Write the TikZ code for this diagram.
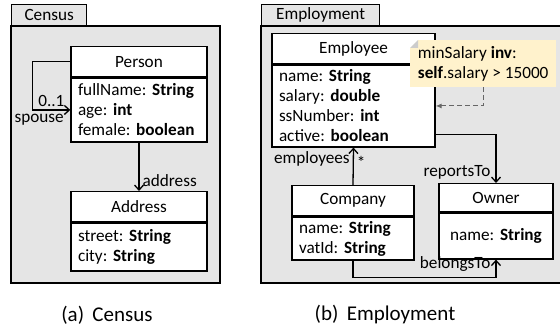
\documentclass[tikz,border=0pt]{standalone}
\usepackage{fontspec}
\setmainfont{Carlito}
\usetikzlibrary{arrows.meta}

\newcommand{\umlfont}{\fontsize{17.2}{20}\selectfont}
\newcommand{\capfont}{\fontsize{21}{24}\selectfont}
\definecolor{notefill}{RGB}{255,242,204}
\frenchspacing

\tikzset{
  pkg/.style={draw, fill=black!10, line width=1.3pt},
  pkgtab/.style={pkg, anchor=south west, inner sep=0pt, minimum height=21, font=\umlfont},
  classhead/.style={draw, fill=white, line width=1.3pt, inner sep=0pt, anchor=north, font=\umlfont},
  classbody/.style={draw, fill=white, line width=1.3pt, inner xsep=7pt, inner ysep=0pt, anchor=north, align=left, font=\umlfont},
  assoc/.style={line width=1.3pt, -{Straight Barb[length=5pt,width=9pt]}},
  lbl/.style={inner sep=1pt, font=\umlfont},
}

\begin{document}
\begin{tikzpicture}[x=1pt, y=1pt]
  \useasboundingbox (0, 0) rectangle (560, 327);

  % packages
  \draw[pkg] (11, 44) rectangle (220, 301);
  \node[pkgtab, minimum width=75] (census) at (11, 301) {Census};
  \draw[pkg] (261, 44) rectangle (566, 301);
  \node[pkgtab, minimum width=118] (employment) at (261, 301) {Employment};

  % Census
  \node[classhead, minimum width=136, minimum height=30] (person) at (139, 281) {Person};
  \node[classbody, text width=122, minimum height=64] (personbody) at (person.south)
    {fullName: \textbf{String}\\age: \textbf{int}\\female: \textbf{boolean}};
  \node[classhead, minimum width=136, minimum height=30] (address) at (139, 136) {Address};
  \node[classbody, text width=122, minimum height=48] (addressbody) at (address.south)
    {street: \textbf{String}\\city: \textbf{String}};

  \draw[assoc] (person.west) -- ++(-38, 0) |- (personbody.west)
    node[lbl, pos=0.75, above, yshift=2] (spousemult) {0..1}
    node[lbl, pos=1, anchor=north east, xshift=-5, yshift=-3] (spouselbl) {spouse};
  \draw[assoc] (personbody.south) -- (address.north)
    node[lbl, pos=0.78, anchor=west, xshift=2] (addresslbl) {address};

  % Employment
  \node[classhead, minimum width=163, minimum height=30] (employee) at (353.5, 294) {Employee};
  \node[classbody, text width=149, minimum height=82] (employeebody) at (employee.south)
    {name: \textbf{String}\\salary: \textbf{double}\\ssNumber: \textbf{int}\\active: \textbf{boolean}};
  \node[classhead, minimum width=122, minimum height=30] (company) at (353, 142) {Company};
  \node[classbody, text width=108, minimum height=43] (companybody) at (company.south)
    {name: \textbf{String}\\vatId: \textbf{String}};
  \node[classhead, minimum width=114, minimum height=28] (owner) at (496, 144) {Owner};
  \node[classbody, text width=100, minimum height=46, align=center] (ownerbody) at (owner.south)
    {name: \textbf{String}};

  \draw[assoc] (company.north) -- (employeebody.south)
    node[lbl, pos=0.7, anchor=east, xshift=-2] (employeeslbl) {employees}
    node[lbl, pos=0.6, anchor=west, xshift=2] (employeesmult) {*};
  \draw[assoc] ([yshift=13]employeebody.south east) -| (owner.north)
    node[lbl, pos=0.89, anchor=east, xshift=-4] (reportslbl) {reportsTo};
  \draw[assoc] (companybody.south) -- ++(0, -17) -| (ownerbody.south)
    node[lbl, pos=0.5, anchor=south east, xshift=-4, yshift=4] (belongslbl) {belongsTo};

  % invariant note with folded corner
  \node[fill=notefill, minimum width=146, minimum height=47, anchor=north west,
        inner xsep=5pt, align=left, font=\umlfont] (inv) at (410, 287)
    {minSalary \textbf{inv}:\\\textbf{self}.salary > 15000};
  \fill[white] (inv.north west) -- ++(8, 0) -- ++(-8, -8) -- cycle;
  \fill[black!20] (inv.north west) ++(8, 0) -- ++(-8, -8) -- ++(8, 0) -- cycle;
  \draw[black!60, line width=1pt, dash pattern=on 5pt off 3pt, -{Latex[length=6pt,width=5pt]}]
    (inv.south) |- (employeebody.east);

  % captions
  \node[font=\capfont] (capa) at (107, 12) {(a)\hspace{0.4em}Census};
  \node[font=\capfont] (capb) at (385, 12) {(b)\hspace{0.4em}Employment};
\end{tikzpicture}
\end{document}
